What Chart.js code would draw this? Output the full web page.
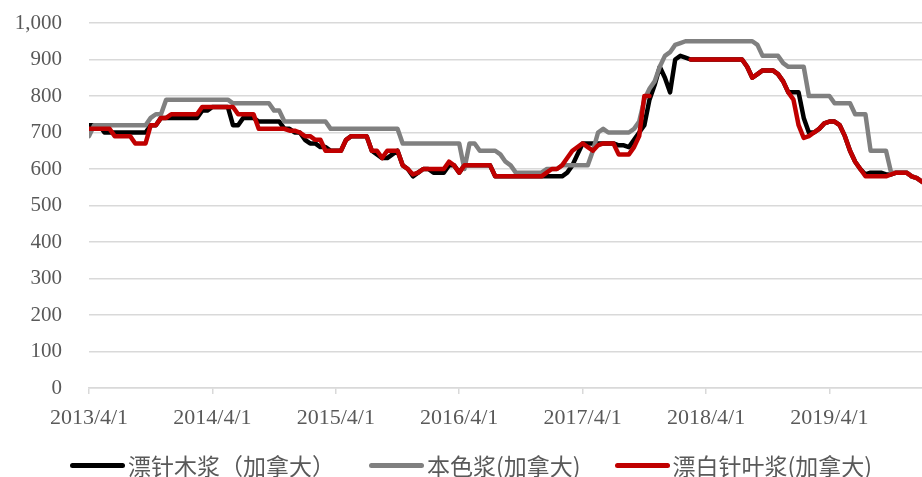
<!DOCTYPE html>
<html>
<head>
<meta charset="utf-8">
<script src="https://cdn.jsdelivr.net/npm/chart.js@4.4.1/dist/chart.umd.min.js"></script>
<style>
  html, body { margin: 0; padding: 0; background: #ffffff; }
  #wrap { position: relative; width: 922px; height: 477px; }
  #legend {
    position: absolute; left: 70px; top: 451px; height: 28px;
    display: flex; align-items: center; gap: 34px;
    font-family: "Noto Sans CJK SC", sans-serif; font-size: 23px; color: #595959;
    white-space: nowrap;
  }
  #legend .item { display: flex; align-items: center; gap: 3px; }
  #legend .swatch { width: 55px; height: 5px; border-radius: 3px; }
</style>
</head>
<body>
<div id="wrap">
  <canvas id="chart" width="922" height="477"></canvas>
  <div id="legend"></div>
</div>
<script>
// half-month steps starting 2013/4/1 (index 0) up to about 2019/12 (index 162)
const yearLabels = ['2013/4/1', '2014/4/1', '2015/4/1', '2016/4/1', '2017/4/1', '2018/4/1', '2019/4/1'];
const seriesNames = ['漂针木浆（加拿大）', '本色浆(加拿大)', '漂白针叶浆(加拿大)'];
const seriesColors = ['#000000', '#808080', '#c00000'];

const bleachedKraft = [
    720, 720, 720, 700, 700, 700, 700, 700, 700, 700, 700, 700,
    720, 720, 740, 740, 740, 740, 740, 740, 740, 740, 760, 760,
    770, 770, 770, 770, 720, 720, 740, 740, 740, 730, 730, 730,
    730, 730, 710, 710, 700, 700, 680, 670, 670, 660, 660, 650,
    650, 650, 680, 690, 690, 690, 690, 650, 640, 630, 630, 640,
    650, 610, 600, 580, 590, 600, 600, 590, 590, 590, 610, 610,
    590, 610, 610, 610, 610, 610, 610, 580, 580, 580, 580, 580,
    580, 580, 580, 580, 580, 580, 580, 580, 580, 590, 610, 640,
    670, 670, 670, 670, 670, 670, 670, 665, 665, 660, 680, 700,
    720, 790, 830, 880, 850, 810, 900, 910, 905, 900, 900, 900,
    900, 900, 900, 900, 900, 900, 900, 900, 880, 850, 860, 870,
    870, 870, 860, 840, 810, 810, 810, 740, 700, 700, 710, 725,
    730, 730, 720, 690, 650, 620, 600, 585, 590, 590, 590, 585,
    585, 590, 590, 590, 580, 575, 565
];

const unbleachedKraft = [
    690, 720, 720, 720, 720, 720, 720, 720, 720, 720, 720, 720,
    740, 750, 750, 790, 790, 790, 790, 790, 790, 790, 790, 790,
    790, 790, 790, 790, 780, 780, 780, 780, 780, 780, 780, 780,
    760, 760, 730, 730, 730, 730, 730, 730, 730, 730, 730, 710,
    710, 710, 710, 710, 710, 710, 710, 710, 710, 710, 710, 710,
    710, 670, 670, 670, 670, 670, 670, 670, 670, 670, 670, 670,
    670, 600, 670, 670, 650, 650, 650, 650, 640, 620, 610, 590,
    590, 590, 590, 590, 590, 600, 600, 600, 610, 610, 610, 610,
    610, 610, 650, 700, 710, 700, 700, 700, 700, 700, 710, 730,
    790, 820, 840, 880, 910, 920, 940, 945, 950, 950, 950, 950,
    950, 950, 950, 950, 950, 950, 950, 950, 950, 950, 940, 910,
    910, 910, 910, 890, 880, 880, 880, 880, 800, 800, 800, 800,
    800, 780, 780, 780, 780, 750, 750, 750, 650, 650, 650, 650,
    590, 590, 590, 590, 580, 575, 565
];

const bleachedSoftwood = [
    710, 710, 710, 710, 710, 690, 690, 690, 690, 670, 670, 670,
    720, 720, 740, 740, 750, 750, 750, 750, 750, 750, 770, 770,
    770, 770, 770, 770, 770, 750, 750, 750, 750, 710, 710, 710,
    710, 710, 710, 705, 705, 700, 690, 690, 680, 680, 650, 650,
    650, 650, 680, 690, 690, 690, 690, 650, 650, 630, 650, 650,
    650, 610, 600, 585, 590, 600, 600, 600, 600, 600, 620, 610,
    590, 610, 610, 610, 610, 610, 610, 580, 580, 580, 580, 580,
    580, 580, 580, 580, 580, 590, 600, 600, 610, 630, 650, 660,
    670, 660, 650, 665, 670, 670, 670, 640, 640, 640, 660, 690,
    800, 800, null, null, null, null, null, null, null, 900, 900, 900,
    900, 900, 900, 900, 900, 900, 900, 900, 880, 850, 860, 870,
    870, 870, 860, 840, 810, 790, 720, 685, 690, 700, 710, 725,
    730, 730, 720, 690, 650, 620, 600, 580, 580, 580, 580, 580,
    585, 590, 590, 590, 580, 575, 565
];

const seriesValues = [bleachedKraft, unbleachedKraft, bleachedSoftwood];
const toPoints = arr => arr.map((v, i) => ({ x: i, y: v }));

// legend as plain html under the plot
const legendEl = document.getElementById('legend');
seriesNames.forEach((name, i) => {
    const item = document.createElement('div');
    item.className = 'item';
    const sw = document.createElement('span');
    sw.className = 'swatch';
    sw.style.background = seriesColors[i];
    const txt = document.createElement('span');
    txt.textContent = name;
    item.appendChild(sw);
    item.appendChild(txt);
    legendEl.appendChild(item);
});

const ctx = document.getElementById('chart').getContext('2d');
new Chart(ctx, {
    type: 'line',
    data: {
        datasets: seriesNames.map((name, i) => ({
            label: name,
            data: toPoints(seriesValues[i]),
            borderColor: seriesColors[i],
            backgroundColor: seriesColors[i],
            order: 3 - i
        }))
    },
    options: {
        responsive: false,
        animation: false,
        devicePixelRatio: 1,
        layout: { padding: { top: 23, right: 0, left: 0, bottom: 49 } },
        elements: {
            line: { borderWidth: 4.5, tension: 0, borderJoinStyle: 'round', borderCapStyle: 'round' },
            point: { radius: 0, hoverRadius: 0 }
        },
        plugins: {
            legend: { display: false },
            tooltip: { enabled: false }
        },
        scales: {
            x: {
                type: 'linear',
                min: 0,
                max: 162,
                grid: { drawOnChartArea: false, drawTicks: true, tickLength: 6, color: '#d9d9d9', lineWidth: 1.5 },
                border: { color: '#d9d9d9', width: 1.5 },
                ticks: {
                    stepSize: 24,
                    includeBounds: false,
                    autoSkip: false,
                    maxRotation: 0,
                    padding: 11,
                    color: '#595959',
                    font: { family: '"Liberation Serif", serif', size: 22 },
                    callback: v => yearLabels[v / 24]
                },
                afterFit: scale => { scale.height = 40; }
            },
            y: {
                min: 0,
                max: 1000,
                grid: { drawTicks: false, color: '#d9d9d9', lineWidth: 1.5 },
                border: { display: false },
                ticks: {
                    stepSize: 100,
                    padding: 27,
                    color: '#595959',
                    font: { family: '"Liberation Serif", serif', size: 21 },
                    callback: v => v.toLocaleString('en-US')
                },
                afterFit: scale => {
                    scale.width = 89;
                    scale.paddingTop = 0;
                    scale.paddingBottom = 0;
                }
            }
        }
    }
});
</script>
</body>
</html>
